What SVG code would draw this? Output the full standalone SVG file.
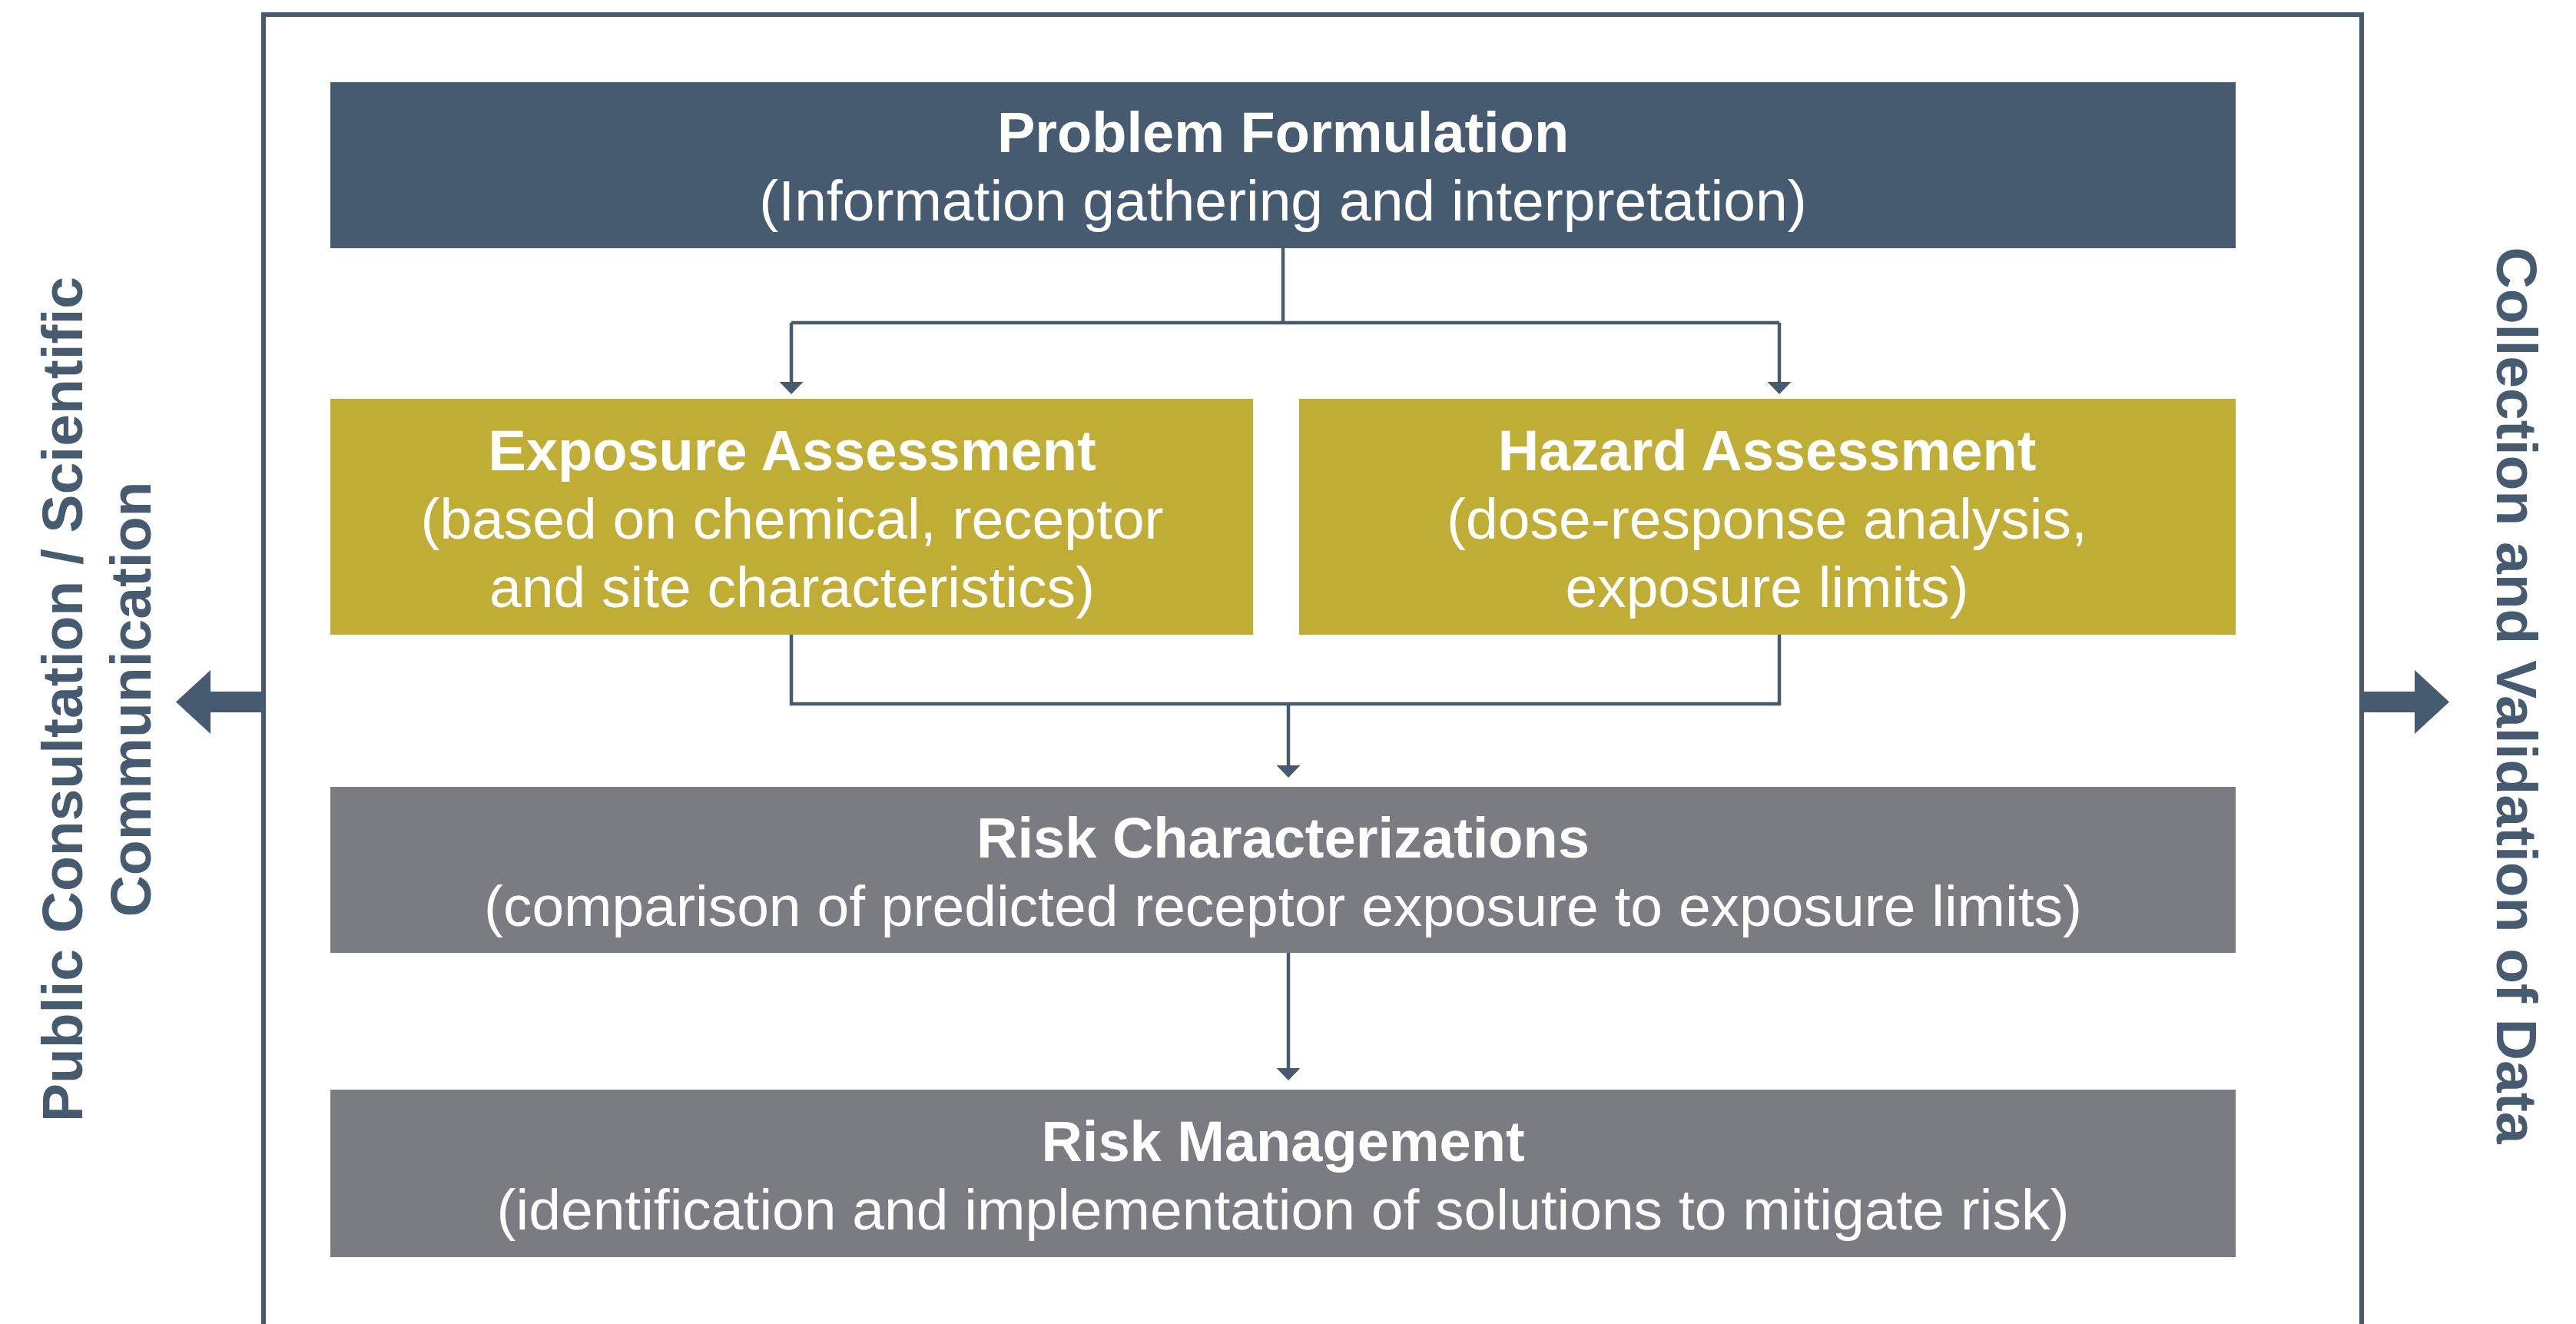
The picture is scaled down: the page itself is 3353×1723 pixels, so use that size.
<svg xmlns="http://www.w3.org/2000/svg" width="3353" height="1723" viewBox="0 0 3353 1723">
  <style>
    .title { font-family: "Liberation Sans", Arial, Helvetica, sans-serif; font-weight: bold; font-size: 74px; fill: #ffffff; text-anchor: middle; }
    .sub { font-family: "Liberation Sans", Arial, Helvetica, sans-serif; font-size: 75px; fill: #ffffff; text-anchor: middle; }
    .side { font-family: "Liberation Sans", Arial, Helvetica, sans-serif; font-weight: bold; font-size: 75px; fill: #465b6f; text-anchor: middle; }
    .slate { fill: #465b6f; }
    .gold { fill: #c0ad36; }
    .grey { fill: #7a7c81; }
    .wire { fill: none; stroke: #465b6f; stroke-width: 4.5; }
  </style>
  <defs>
    <!-- triangular head, base sits on the line end, tip points along the line -->
    <marker id="head" viewBox="0 0 16 31" refX="0" refY="15.5" markerWidth="16" markerHeight="31" markerUnits="userSpaceOnUse" orient="auto">
      <path d="M0,0 L16,15.5 L0,31 Z" fill="#465b6f"/>
    </marker>
  </defs>

  <rect width="3353" height="1723" fill="#ffffff"/>

  <!-- open frame around the process -->
  <g id="frame">
    <path d="M343,1740 V19 H3074 V1740" fill="none" stroke="#465b6f" stroke-width="6"/>
    <polygon class="slate" points="343,900 274,900 274,872 229,913.5 274,955 274,927 343,927"/>
    <polygon class="slate" points="3074,900 3143,900 3143,872 3188,913.5 3143,955 3143,927 3074,927"/>
  </g>

  <!-- side labels -->
  <g id="label-left">
    <text class="side" transform="translate(107,910) rotate(-90)">Public Consultation / Scientific</text>
    <text class="side" transform="translate(196,910) rotate(-90)">Communication</text>
  </g>
  <g id="label-right">
    <text class="side" transform="translate(3250,905) rotate(90)">Collection and Validation of Data</text>
  </g>

  <!-- connectors -->
  <g id="connectors">
    <path class="wire" d="M1670,323 V420"/>
    <path class="wire" d="M1030,420 H2316"/>
    <path class="wire" d="M1030,420 V497" marker-end="url(#head)"/>
    <path class="wire" d="M2316,420 V497" marker-end="url(#head)"/>
    <path class="wire" d="M1030,826 V916 H2316 V826"/>
    <path class="wire" d="M1677,916 V996" marker-end="url(#head)"/>
    <path class="wire" d="M1677,1240 V1390" marker-end="url(#head)"/>
  </g>

  <g id="problem-formulation">
    <rect class="slate" x="430" y="107" width="2480" height="216"/>
    <text class="title" x="1670" y="198">Problem Formulation</text>
    <text class="sub" x="1670" y="287">(Information gathering and interpretation)</text>
  </g>

  <g id="exposure-assessment">
    <rect class="gold" x="430" y="519" width="1201" height="307"/>
    <text class="title" x="1031" y="612">Exposure Assessment</text>
    <text class="sub" x="1031" y="701">(based on chemical, receptor</text>
    <text class="sub" x="1031" y="790">and site characteristics)</text>
  </g>

  <g id="hazard-assessment">
    <rect class="gold" x="1691" y="519" width="1219" height="307"/>
    <text class="title" x="2300" y="612">Hazard Assessment</text>
    <text class="sub" x="2300" y="701">(dose-response analysis,</text>
    <text class="sub" x="2300" y="790">exposure limits)</text>
  </g>

  <g id="risk-characterizations">
    <rect class="grey" x="430" y="1024" width="2480" height="216"/>
    <text class="title" x="1670" y="1116">Risk Characterizations</text>
    <text class="sub" x="1670" y="1205">(comparison of predicted receptor exposure to exposure limits)</text>
  </g>

  <g id="risk-management">
    <rect class="grey" x="430" y="1418" width="2480" height="218"/>
    <text class="title" x="1670" y="1511">Risk Management</text>
    <text class="sub" x="1670" y="1600">(identification and implementation of solutions to mitigate risk)</text>
  </g>
</svg>
